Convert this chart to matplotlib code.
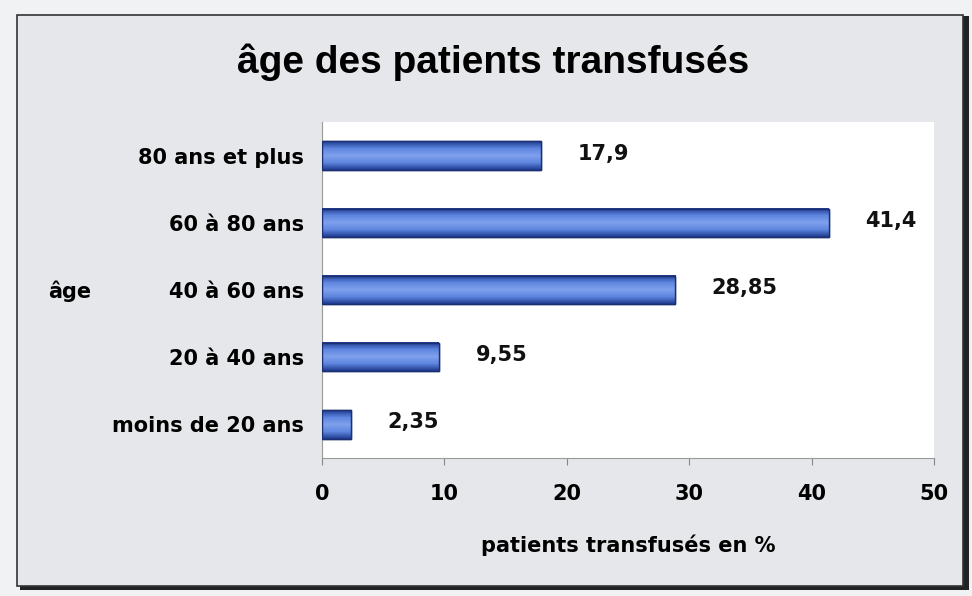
import numpy as np
import matplotlib.pyplot as plt
from matplotlib.patches import Rectangle
from matplotlib.colors import LinearSegmentedColormap

plt.rcParams['font.family'] = ['DejaVu Sans']
plt.rcParams['font.weight'] = 'bold'

# data
categories = ['moins de 20 ans', '20 à 40 ans', '40 à 60 ans', '60 à 80 ans', '80 ans et plus']
values = [2.35, 9.55, 28.85, 41.4, 17.9]
value_labels = ['2,35', '9,55', '28,85', '41,4', '17,9']
xticks = [0, 10, 20, 30, 40, 50]

bg = '#e6e7ea'
fig = plt.figure(figsize=(9.72, 5.96), dpi=100)
fig.patch.set_facecolor('#f1f2f3')

# outer frame with shadow
fig.patches.append(Rectangle((20 / 972, 1 - 590 / 596), 949 / 972, 574 / 596,
                             transform=fig.transFigure, facecolor='#222222',
                             edgecolor='none', zorder=-5))
fig.patches.append(Rectangle((17 / 972, 1 - 586 / 596), 946 / 972, 571 / 596,
                             transform=fig.transFigure, facecolor=bg,
                             edgecolor='#333333', linewidth=1.2, zorder=-4))

ax = fig.add_axes([322 / 972, 1 - 458 / 596, 612 / 972, 336 / 596])
ax.set_facecolor('white')

y = np.arange(len(categories))
bars = ax.barh(y, values, height=0.42, color='#4f74d4', edgecolor='#1c2f70',
               linewidth=1.0, zorder=2)

# shaded look on each bar
cmap = LinearSegmentedColormap.from_list('bar', ['#1f3a8f', '#5e86e0', '#7fa0ec', '#5e86e0', '#1f3a8f'])
grad = np.linspace(0, 1, 64).reshape(-1, 1)
for b in bars:
    x0, y0 = b.get_x(), b.get_y()
    w, h = b.get_width(), b.get_height()
    ax.imshow(grad, cmap=cmap, aspect='auto', extent=[x0, x0 + w, y0, y0 + h],
              zorder=3, interpolation='bilinear')
    ax.add_patch(Rectangle((x0, y0), w, h, fill=False, edgecolor='#1c2f70',
                           linewidth=1.0, zorder=4))

for yi, v, lab in zip(y, values, value_labels):
    ax.text(v + 3.0, yi + 0.03, lab, va='center', ha='left', fontsize=15,
            fontweight='bold', color='#111111')

ax.set_xlim(0, 50)
ax.set_ylim(-0.5, len(categories) - 0.5)
ax.set_xticks(xticks)
ax.set_xticklabels([str(t) for t in xticks], fontsize=15, fontweight='bold')
ax.set_yticks(y)
ax.set_yticklabels(categories, fontsize=15, fontweight='bold')
ax.tick_params(axis='x', length=5, color='#888888', pad=14)
ax.tick_params(axis='y', length=0, pad=13)
for s in ['top', 'right']:
    ax.spines[s].set_visible(False)
ax.spines['left'].set_color('#999999')
ax.spines['bottom'].set_color('#999999')

ax.set_xlabel('patients transfusés en %', fontsize=15, fontweight='bold', labelpad=22)
fig.text(48 / 972, 1 - 291 / 596, 'âge', fontsize=15, fontweight='bold', va='center')
fig.text(493 / 972, 1 - 62 / 596, 'âge des patients transfusés', fontsize=28,
         fontweight='bold', ha='center', va='center',
         family=['Liberation Sans', 'DejaVu Sans'])

fig.savefig('out.png', dpi=100, facecolor=fig.get_facecolor())
